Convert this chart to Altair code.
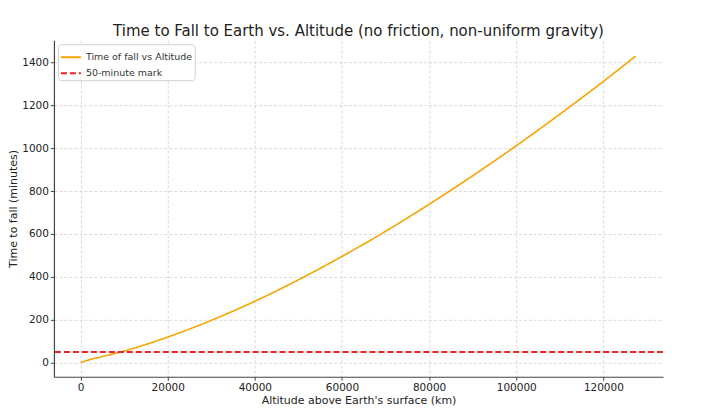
import altair as alt
import pandas as pd

# Values
altitude_km = [0, 2500, 5000, 10000, 20000, 30000, 40000, 50000, 60000,
               70000, 80000, 90000, 100000, 110000, 120000, 127400]
time_min = [0, 16, 28, 54, 119, 197, 286, 386, 495, 612, 738, 871, 1011,
            1158, 1311, 1429]
mark_minutes = 50
series_names = ["Time of fall vs Altitude", "50-minute mark"]
series_colors = ["#f5a400", "#ee2222"]
x_ticks = [0, 20000, 40000, 60000, 80000, 100000, 120000]
y_ticks = [0, 200, 400, 600, 800, 1000, 1200, 1400]

curve = pd.DataFrame({"alt": altitude_km, "t": time_min, "series": series_names[0]})
mark = pd.DataFrame({"t": [mark_minutes], "series": [series_names[1]]})

FONT = "DejaVu Sans"

color = alt.Color("series:N", title=None,
                  scale=alt.Scale(domain=series_names, range=series_colors),
                  legend=alt.Legend(orient="none", legendX=4, legendY=4,
                                    symbolType="stroke", symbolSize=400,
                                    symbolStrokeWidth=2, labelFontSize=9.5,
                                    labelFont=FONT, labelColor="#333",
                                    fillColor="white", strokeColor="#d0d0d0",
                                    cornerRadius=3, padding=2, rowPadding=-6,
                                    labelLimit=300))
dash = alt.StrokeDash("series:N", title=None,
                      scale=alt.Scale(domain=series_names, range=[[1, 0], [6, 3]]),
                      legend=None)

xscale = alt.Scale(domain=[-6120, 133700], nice=False, zero=False)
yscale = alt.Scale(domain=[-66, 1503], nice=False, zero=False)

line = alt.Chart(curve).mark_line(strokeWidth=1.6, interpolate="monotone").encode(
    x=alt.X("alt:Q", scale=xscale,
            axis=alt.Axis(title="Altitude above Earth's surface (km)", values=x_ticks,
                          format="d")),
    y=alt.Y("t:Q", scale=yscale,
            axis=alt.Axis(title="Time to fall (minutes)", values=y_ticks, format="d")),
    color=color,
    strokeDash=dash,
)

rule = alt.Chart(mark).mark_rule(strokeWidth=2).encode(
    y=alt.Y("t:Q", scale=yscale),
    color=color,
    strokeDash=dash,
)

chart = alt.layer(line, rule).properties(
    width=610, height=337,
    autosize=alt.AutoSizeParams(type="none"),
    padding={"left": 46, "top": 32, "right": 40, "bottom": 31},
    title=alt.Title("Time to Fall to Earth vs. Altitude (no friction, non-uniform gravity)",
                    font=FONT, fontSize=15, fontWeight="normal", color="#222",
                    offset=1),
).configure_view(stroke=None).configure_axis(
    labelFont=FONT, labelFontSize=10.5, labelColor="#222",
    titleFont=FONT, titleFontSize=11, titleFontWeight="normal", titleColor="#222",
    domainColor="#444", domainWidth=1.2, tickColor="#444", tickSize=3.5,
    gridColor="#d0d0d0", gridDash=[3, 2], gridWidth=0.8, labelPadding=2,
).configure_axisY(titlePadding=3).configure_axisX(titlePadding=2)

chart.save("out.html", embed_options={"renderer": "svg", "actions": False})
